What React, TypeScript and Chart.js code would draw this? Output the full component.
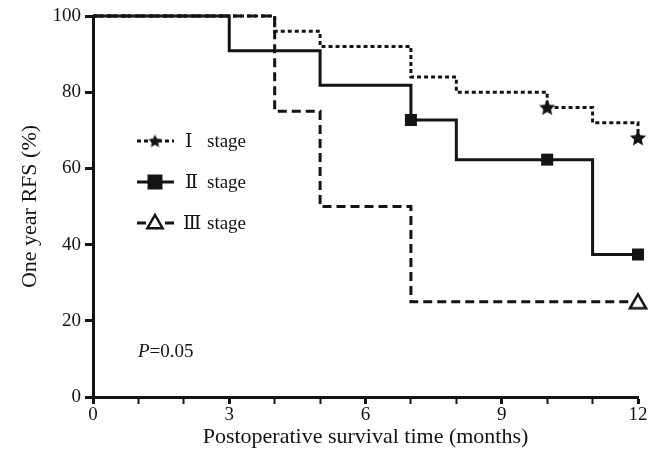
import React, { useEffect, useRef } from 'react';
import { Chart, registerables } from 'chart.js';
Chart.register(...registerables);

// ---- Data ----
const monthTicks = [0, 1, 2, 3, 4, 5, 6, 7, 8, 9, 10, 11, 12];
const labelledMonths = [0, 3, 6, 9, 12];
const percentTicks = [0, 20, 40, 60, 80, 100];

const stageITimes = [0, 4, 5, 7, 8, 10, 11, 12];
const stageIValues = [100, 96, 92, 84, 80, 76, 72, 68];
const stageICensorTimes = [10, 12];
const stageICensorValues = [76, 68];

const stageIITimes = [0, 3, 5, 7, 8, 11, 12];
const stageIIValues = [100, 90.9, 81.8, 72.7, 62.3, 37.4, 37.4];
const stageIICensorTimes = [7, 10, 12];
const stageIICensorValues = [72.7, 62.3, 37.4];

const stageIIITimes = [0, 4, 5, 7, 12];
const stageIIIValues = [100, 75, 50, 25, 25];
const stageIIICensorTimes = [12];
const stageIIICensorValues = [25];

const legendNumerals = ['Ⅰ', 'Ⅱ', 'Ⅲ'];
const legendWord = 'stage';
const xTitle = 'Postoperative survival time (months)';
const yTitle = 'One year RFS (%)';
const pLabel = 'P';
const pValueText = '=0.05';

const FONT = '"Liberation Serif", "Times New Roman", "DejaVu Serif", serif';
const INK = '#141414';

const toPts = (xs: number[], ys: number[]) => xs.map((x, i) => ({ x, y: ys[i] }));

function makeStar(size: number) {
  const c = document.createElement('canvas');
  c.width = size;
  c.height = size;
  const g = c.getContext('2d')!;
  const cx = size / 2, cy = size / 2 + 0.5, R = size / 2 - 0.5, r = R * 0.48;
  g.beginPath();
  for (let i = 0; i < 10; i++) {
    const a = -Math.PI / 2 + (i * Math.PI) / 5;
    const rad = i % 2 === 0 ? R : r;
    g.lineTo(cx + rad * Math.cos(a), cy + rad * Math.sin(a));
  }
  g.closePath();
  g.fillStyle = INK;
  g.fill();
  return c;
}

export default function App() {
  const ref = useRef<HTMLCanvasElement | null>(null);

  useEffect(() => {
    document.body.style.margin = '0';
    const star = makeStar(18);
    const starSmall = makeStar(15);

    const drawTriangle = (ctx: CanvasRenderingContext2D, x: number, y: number, r: number) => {
      ctx.save();
      ctx.setLineDash([]);
      ctx.beginPath();
      ctx.moveTo(x, y - r);
      ctx.lineTo(x + r * 0.95, y + r * 0.65);
      ctx.lineTo(x - r * 0.95, y + r * 0.65);
      ctx.closePath();
      ctx.fillStyle = '#fff';
      ctx.fill();
      ctx.lineWidth = 2.5;
      ctx.strokeStyle = INK;
      ctx.stroke();
      ctx.restore();
    };

    const overlay = {
      id: 'overlay',
      afterDatasetsDraw(chart: any) {
        const ctx: CanvasRenderingContext2D = chart.ctx;
        const rows = [141, 182, 223];
        const dashes = [[4, 3], [], [9, 5]];
        ctx.save();
        rows.forEach((y, i) => {
          ctx.beginPath();
          ctx.setLineDash(dashes[i]);
          ctx.lineWidth = 3;
          ctx.strokeStyle = INK;
          ctx.moveTo(137, y);
          ctx.lineTo(174, y);
          ctx.stroke();
          ctx.setLineDash([]);
          if (i === 0) ctx.drawImage(starSmall, 155 - 7.5, y - 7.5);
          if (i === 1) {
            ctx.fillStyle = INK;
            ctx.fillRect(155 - 7.5, y - 7.5, 15, 15);
          }
          if (i === 2) drawTriangle(ctx, 155, y, 8);
          ctx.fillStyle = INK;
          ctx.font = `19px ${FONT}`;
          ctx.textBaseline = 'middle';
          ctx.textAlign = 'left';
          const nx = i === 2 ? 183 : 185;
          ctx.fillText(legendNumerals[i], nx, y + 1);
          const nw = ctx.measureText(legendNumerals[i]).width;
          ctx.fillText(legendWord, Math.max(207, nx + nw + 5), y + 1);
        });
        // P value
        ctx.font = `italic 19px ${FONT}`;
        ctx.textBaseline = 'middle';
        ctx.fillText(pLabel, 138, 352);
        const w = ctx.measureText(pLabel).width;
        ctx.font = `19px ${FONT}`;
        ctx.fillText(pValueText, 138 + w, 352);
        ctx.restore();
      },
    };

    const triangleStyle = (() => {
      const c = document.createElement('canvas');
      c.width = 20;
      c.height = 20;
      const g = c.getContext('2d')!;
      drawTriangle(g, 10, 11, 8.5);
      return c;
    })();

    const lineDs = (xs: number[], ys: number[], dash: number[]) => ({
      type: 'line',
      data: toPts(xs, ys),
      stepped: 'before',
      borderColor: INK,
      borderWidth: 3,
      borderDash: dash,
      pointRadius: 0,
      fill: false,
      clip: false,
      order: 2,
    });
    const markDs = (xs: number[], ys: number[], style: any, radius: number) => ({
      type: 'scatter',
      data: toPts(xs, ys),
      pointStyle: style,
      pointRadius: radius,
      backgroundColor: INK,
      borderColor: INK,
      borderWidth: 0,
      showLine: false,
      clip: false,
      order: 1,
    });

    const chart = new Chart(ref.current!, {
      type: 'line',
      data: {
        datasets: [
          lineDs(stageITimes, stageIValues, [4, 3]),
          lineDs(stageIITimes, stageIIValues, []),
          lineDs(stageIIITimes, stageIIIValues, [9, 5]),
          markDs(stageICensorTimes, stageICensorValues, star, 9),
          markDs(stageIICensorTimes, stageIICensorValues, 'rect', 8.5),
          markDs(stageIIICensorTimes, stageIIICensorValues, triangleStyle, 9),
        ] as any,
      },
      options: {
        animation: false,
        responsive: false,
        events: [],
        layout: { padding: { top: 16, right: 24, left: 0, bottom: 0 } },
        plugins: { legend: { display: false }, tooltip: { enabled: false } },
        scales: {
          x: {
            type: 'linear',
            min: 0,
            max: 12,
            afterBuildTicks: (s: any) => {
              s.ticks = monthTicks.map((v) => ({ value: v }));
            },
            afterFit: (s: any) => {
              s.height = 59;
            },
            ticks: {
              autoSkip: false,
              maxRotation: 0,
              padding: 0,
              color: INK,
              font: { family: FONT, size: 19 },
              callback: (v: any) => (labelledMonths.includes(Number(v)) ? String(v) : ''),
            },
            grid: {
              drawOnChartArea: false,
              tickLength: 7,
              tickColor: INK,
              tickWidth: (c: any) => (labelledMonths.includes(c.tick?.value) ? 3 : 2),
            },
            border: { width: 3, color: INK },
            title: {
              display: true,
              text: xTitle,
              color: INK,
              font: { family: FONT, size: 22 },
              padding: { top: 0, bottom: 6 },
            },
          },
          y: {
            type: 'linear',
            min: 0,
            max: 100,
            afterBuildTicks: (s: any) => {
              s.ticks = percentTicks.map((v) => ({ value: v }));
            },
            afterFit: (s: any) => {
              s.width = 93;
            },
            ticks: {
              padding: 4,
              color: INK,
              font: { family: FONT, size: 19 },
            },
            grid: { drawOnChartArea: false, tickLength: 8, tickWidth: 3, tickColor: INK },
            border: { width: 3, color: INK },
            title: {
              display: true,
              text: yTitle,
              color: INK,
              font: { family: FONT, size: 22 },
              padding: { top: 17, bottom: 0 },
            },
          },
        },
      },
      plugins: [overlay],
    } as any);
    return () => chart.destroy();
  }, []);

  return (
    <div style={{ width: 662, height: 456 }}>
      <canvas ref={ref} width={662} height={456} />
    </div>
  );
}
